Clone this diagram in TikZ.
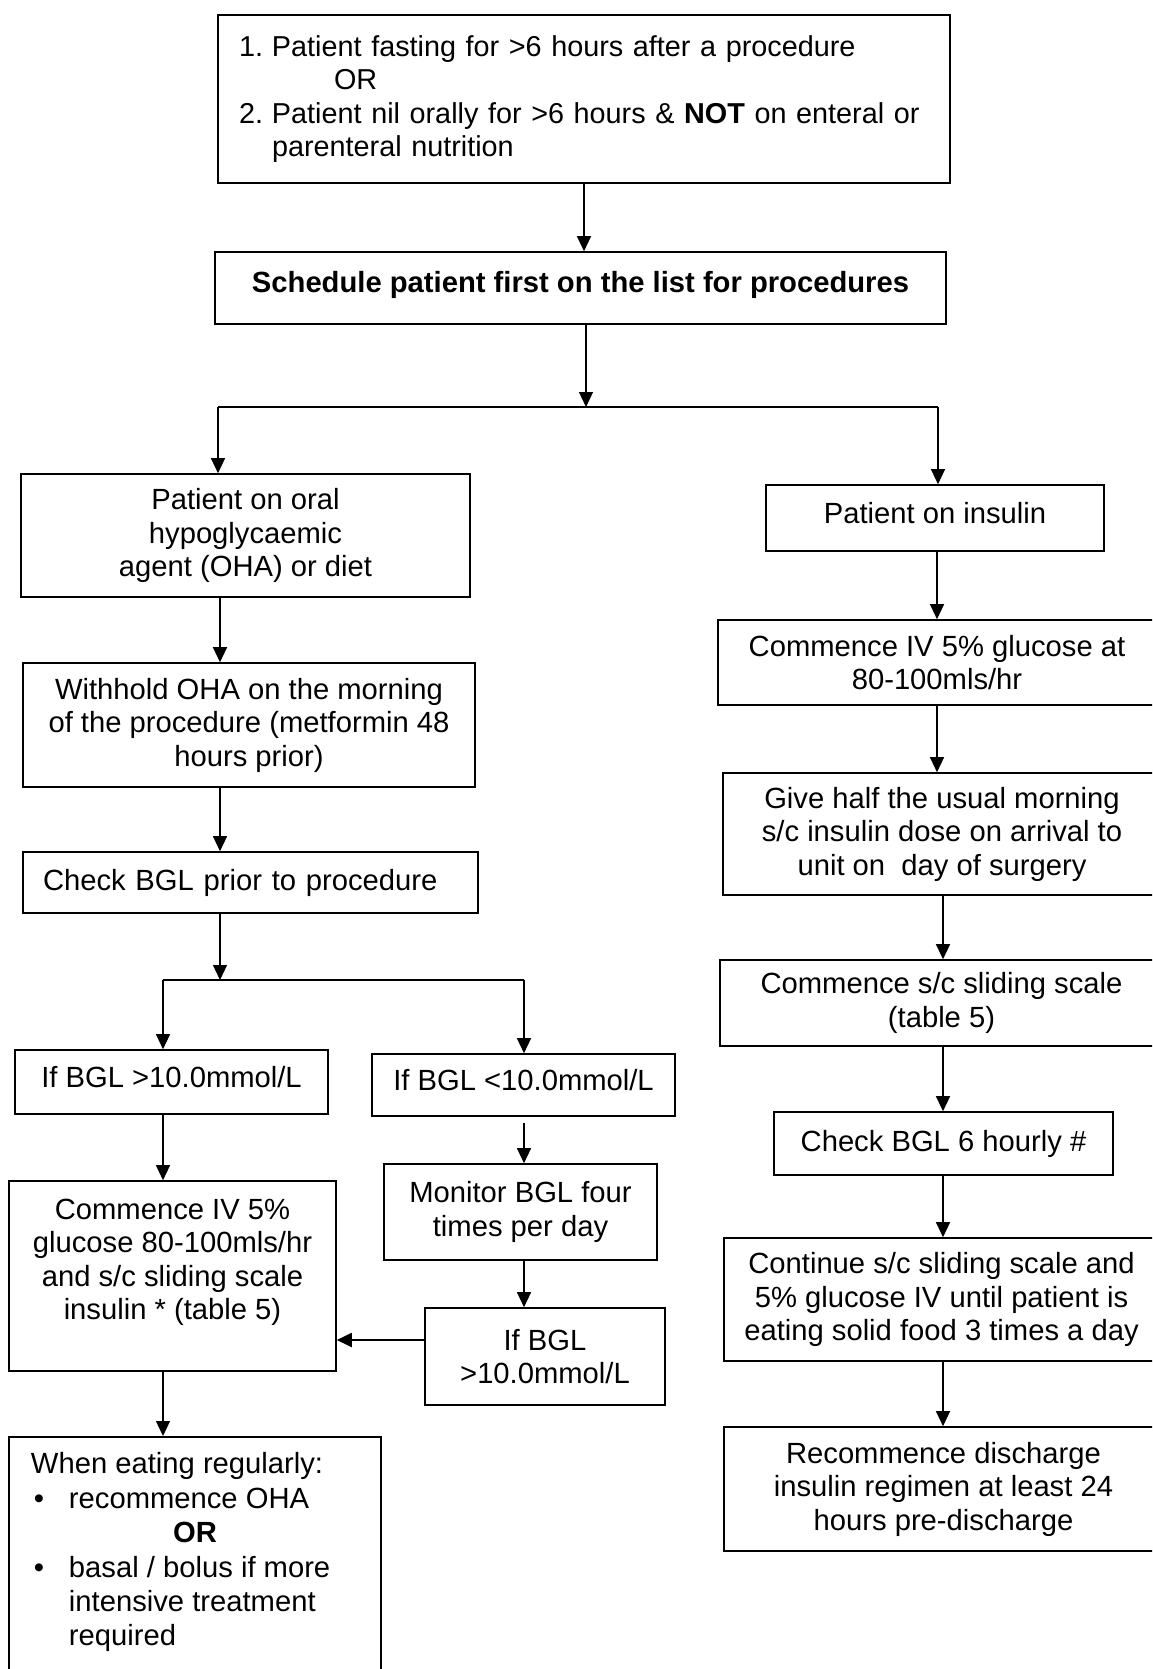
\documentclass[tikz,border=0pt]{standalone}
\usepackage{fontspec}
\setmainfont{Liberation Sans}
\usepackage{tikz}
\usetikzlibrary{arrows.meta,calc,positioning}
\tikzset{
    >={Triangle[length=7.5pt,width=7pt]},
    boks/.style={
           rectangle,
           draw=black, line width=0.8pt,
           inner sep=0pt,
           align=center},
    pil/.style={
           ->,
           line width=0.6pt},
    tykpil/.style={
           ->,
           line width=1pt}
}

\begin{document}
\begin{tikzpicture}[x=0.5pt, y=-0.5pt, font=\fontsize{14.6pt}{16.75pt}\selectfont]
        \useasboundingbox (0,0) rectangle (1152,1669);
        \clip (0,0) rectangle (1152,1669);
        \node[boks, minimum width=366pt, minimum height=84pt, text width=345pt, align=left,
              font=\fontsize{14.4pt}{16.6pt}\selectfont] (vilkaar) at (584,99)
            {\makebox[16.5pt][l]{1.}Patient fasting for >6 hours after a procedure\\
             \hspace*{47.5pt}OR\\
             \makebox[16.5pt][l]{2.}Patient nil orally for >6 hours \& \textbf{NOT} on enteral or\\
             \hspace*{16.5pt}parenteral nutrition};
        \node[boks, minimum width=365.5pt, minimum height=36pt, text depth=6pt] (plan) at (580.5,288) {\bfseries Schedule patient first on the list for procedures};
        \node[boks, minimum width=224.5pt, minimum height=61.5pt] (oral) at (245.5,535.5) {Patient on oral\\ hypoglycaemic\\ agent (OHA) or diet};
        \node[boks, minimum width=169pt, minimum height=33pt, text depth=5pt] (insulin) at (935,518) {Patient on insulin};
        \node[boks, minimum width=226pt, minimum height=62pt] (tilbakehold) at (249,725) {Withhold OHA on the morning\\ of the procedure (metformin 48\\ hours prior)};
        \node[boks, minimum width=227.5pt, minimum height=30.5pt, text width=207.5pt, align=left] (sjekk) at (250.5,882.5) {Check BGL prior to procedure};
        \node[boks, minimum width=219pt, minimum height=42.5pt] (ivhoyre) at (937,662.5) {Commence IV 5\% glucose at\\ 80-100mls/hr};
        \node[boks, minimum width=219pt, minimum height=61pt] (halv) at (942,834) {Give half the usual morning\\ s/c insulin dose on arrival to\\ unit on\ \ day of surgery};
        \node[boks, minimum width=221.5pt, minimum height=43pt] (skala) at (941.5,1003) {Commence s/c sliding scale\\ (table 5)};
        \node[boks, minimum width=169.5pt, minimum height=31.5pt] (seks) at (943.5,1143.5) {Check BGL 6 hourly \#};
        \node[boks, minimum width=217.5pt, minimum height=61.5pt] (fortsett) at (941.5,1299.5) {Continue s/c sliding scale and\\ 5\% glucose IV until patient is\\ eating solid food 3 times a day};
        \node[boks, minimum width=219.5pt, minimum height=62pt] (gjenoppta) at (943.5,1489) {Recommence discharge\\ insulin regimen at least 24\\ hours pre-discharge};
        \node[boks, minimum width=156.5pt, minimum height=32pt, text depth=5pt] (hoy) at (171.5,1082) {If BGL >10.0mmol/L};
        \node[boks, minimum width=151.5pt, minimum height=31pt, text depth=5pt] (lav) at (523.5,1085) {If BGL <10.0mmol/L};
        \node[boks, minimum width=163.5pt, minimum height=95pt] (ivvenstre) at (172.5,1276) {Commence IV 5\%\\ glucose 80-100mls/hr\\ and s/c sliding scale\\ insulin * (table 5)\\ \mbox{}};
        \node[boks, minimum width=136.5pt, minimum height=48pt] (overvaak) at (520.5,1212) {Monitor BGL four\\ times per day};
        \node[boks, minimum width=120pt, minimum height=48.5pt] (hoy2) at (545,1356.5) {If BGL\\ >10.0mmol/L};
        \node[boks, anchor=north, inner xsep=11pt, inner ysep=8pt] (spising) at (195,1436)
            {\begin{minipage}[t][120pt][t]{164pt}
             \fontsize{14.6pt}{17.2pt}\selectfont
             When eating regularly:\\
             \hspace*{1.5pt}\makebox[17.5pt][l]{\textbullet}recommence OHA\\
             \makebox[\linewidth]{\textbf{OR}}\\
             \hspace*{1.5pt}\makebox[17.5pt][l]{\textbullet}basal / bolus if more\\
             \hspace*{19pt}intensive treatment\\
             \hspace*{19pt}required
             \end{minipage}};
        \coordinate (gren) at (586,407);
        \coordinate (grenV) at (218,407);
        \coordinate (grenH) at (938,407);
        \coordinate (xv) at (220,0);
        \coordinate (xh) at (937,0);
        \coordinate (xh2) at (943,0);
        \coordinate (gren2) at (220,980);
        \coordinate (gren2V) at (163,980);
        \coordinate (gren2H) at (524,980);
        \coordinate (pilnivaa) at (0,1340);
        \draw[pil] (vilkaar.south) -- (vilkaar.south |- plan.north);
        \draw[pil] (plan.south -| gren) -- (gren);
        \draw[line width=0.6pt] (grenV) -- (grenH);
        \draw[pil] (grenV) -- (grenV |- oral.north);
        \draw[pil] (grenH) -- (grenH |- insulin.north);
        \draw[pil] (oral.south -| xv) -- (tilbakehold.north -| xv);
        \draw[pil] (tilbakehold.south -| xv) -- (sjekk.north -| xv);
        \draw[pil] (sjekk.south -| gren2) -- (gren2);
        \draw[line width=0.6pt] (gren2V) -- (gren2H);
        \draw[pil] (gren2V) -- (gren2V |- hoy.north);
        \draw[pil] (gren2H) -- (gren2H |- lav.north);
        \draw[pil] (hoy.south -| gren2V) -- (ivvenstre.north -| gren2V);
        \draw[pil] (ivvenstre.south -| gren2V) -- (spising.north -| gren2V);
        \draw[pil, shorten <=3pt] (lav.south -| gren2H) -- (overvaak.north -| gren2H);
        \draw[pil] (overvaak.south -| gren2H) -- (hoy2.north -| gren2H);
        \draw[tykpil] (hoy2.west |- pilnivaa) -- (ivvenstre.east |- pilnivaa);
        \draw[pil] (insulin.south -| xh) -- (ivhoyre.north -| xh);
        \draw[pil] (ivhoyre.south -| xh) -- (halv.north -| xh);
        \draw[pil] (halv.south -| xh2) -- (skala.north -| xh2);
        \draw[pil] (skala.south -| xh2) -- (seks.north -| xh2);
        \draw[pil] (seks.south -| xh2) -- (fortsett.north -| xh2);
        \draw[pil] (fortsett.south -| xh2) -- (gjenoppta.north -| xh2);
\end{tikzpicture}
\end{document}
